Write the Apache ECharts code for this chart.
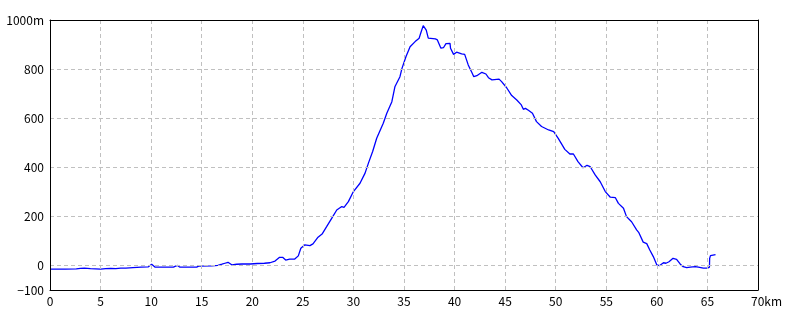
<!DOCTYPE html>
<html>
<head>
<meta charset="utf-8">
<script src="https://cdn.jsdelivr.net/npm/echarts@6/dist/echarts.min.js"></script>
<style>html,body{margin:0;padding:0;background:#fff;}#c{width:800px;height:320px;}</style>
</head>
<body>
<div id="c"></div>
<script>
const distanceKm = [0,1.5,2.6,3.0,3.4,4.0,4.5,5.0,5.5,6.0,6.5,7.0,7.5,8.2,9.0,9.7,10.05,10.4,11.0,12.2,12.6,12.85,14.5,14.7,16.0,16.6,17.0,17.3,17.6,18.0,18.45,19.0,19.8,20.5,21.2,21.75,22.25,22.7,23.0,23.3,23.7,24.2,24.55,24.8,25.2,25.7,26.0,26.5,26.9,27.35,27.85,28.35,28.5,28.85,29.07,29.5,30.0,30.65,31.15,31.5,31.9,32.3,32.95,33.3,33.8,34.1,34.6,34.8,35.2,35.6,36.1,36.5,36.65,36.9,37.2,37.4,38.1,38.3,38.65,38.9,39.15,39.55,39.6,39.9,40.2,40.7,41.0,41.35,41.7,41.9,42.2,42.7,43.1,43.35,43.7,44.4,44.65,45.15,45.65,46.15,46.6,46.8,47.0,47.3,47.7,48.1,48.6,49.3,49.8,50.25,50.9,51.4,51.75,52.2,52.7,53.1,53.4,53.9,54.4,54.9,55.4,55.9,56.2,56.7,57.0,57.5,58.0,58.2,58.65,59.0,59.3,59.65,60.0,60.25,60.65,60.9,61.2,61.6,61.95,62.3,62.6,62.95,63.3,63.8,64.1,64.6,65.0,65.2,65.22,65.3,65.4,65.8];
const elevationM = [-15,-15,-14,-12,-11,-13,-14,-15,-13,-12,-13,-11,-11,-9,-7,-6,5,-7,-7,-7,0,-7,-7,-3,-2,0,5,9,13,2,5,6,6,8,9,11,18,33,33,22,26,26,39,70,84,81,88,115,128,158,192,226,222,240,237,260,301,335,376,419,464,518,579,620,667,728,769,803,851,891,912,926,946,977,959,926,923,919,885,887,904,905,885,860,869,862,860,817,787,769,773,787,780,765,756,759,749,724,692,674,654,636,640,632,620,586,566,552,545,518,473,454,454,423,398,408,403,369,341,301,278,276,253,233,199,178,145,135,95,89,63,36,2,-1,11,9,15,29,25,6,-5,-9,-7,-5,-7,-11,-11,-7,29,40,44,44];
const yGridValues = [0,200,400,600,800];
const yLabelValues = [-100,0,200,400,600,800,1000];

const chart = echarts.init(document.getElementById('c'), null, {renderer:'canvas'});
const font = "'Noto Sans CJK JP', 'DejaVu Sans', sans-serif";
const points = distanceKm.map((d,i)=>[d, elevationM[i]]);
const frameAxis = {axisLine:{show:true,onZero:false,lineStyle:{color:'#000',width:1}},axisTick:{show:false},axisLabel:{show:false},splitLine:{show:false}};
chart.setOption({
  animation:false,
  backgroundColor:'#fff',
  grid:{left:50,right:42,top:20,bottom:30,show:false},
  xAxis:[{
    type:'value',min:0,max:70,interval:5,position:'bottom',
    axisLine:{show:true,onZero:false,lineStyle:{color:'#000',width:1}},
    axisTick:{show:false},
    splitLine:{show:true,lineStyle:{color:'#c0c0c0',type:[4,3],width:1}},
    axisLabel:{
      color:'#000',fontFamily:font,fontSize:12,margin:5,
      formatter:v=> v===70 ? '{p|}70km' : String(v),
      rich:{p:{width:17}}
    },
    z:5
  },Object.assign({type:'value',min:0,max:70,position:'top',z:5},frameAxis)],
  yAxis:[{
    type:'value',min:-100,max:1000,interval:100,position:'left',
    axisLine:{show:true,onZero:false,lineStyle:{color:'#000',width:1}},
    axisTick:{show:false},
    splitLine:{show:false},
    axisLabel:{
      color:'#000',fontFamily:font,fontSize:12,margin:6,
      formatter:v=> yLabelValues.indexOf(v)<0 ? '' : (v===1000 ? '1000m' : (v<0 ? '\u2212'+Math.abs(v) : String(v)))
    },
    z:5
  },Object.assign({type:'value',min:-100,max:1000,position:'right',z:5},frameAxis)],
  series:[{
    type:'line',data:points,showSymbol:false,symbol:'none',
    lineStyle:{color:'#0000ff',width:1.3},
    markLine:{
      silent:true,symbol:'none',label:{show:false},
      lineStyle:{color:'#c0c0c0',type:[4,3],width:1},
      data:yGridValues.map(v=>({yAxis:v}))
    },
    z:3
  }]
});
</script>
</body>
</html>
